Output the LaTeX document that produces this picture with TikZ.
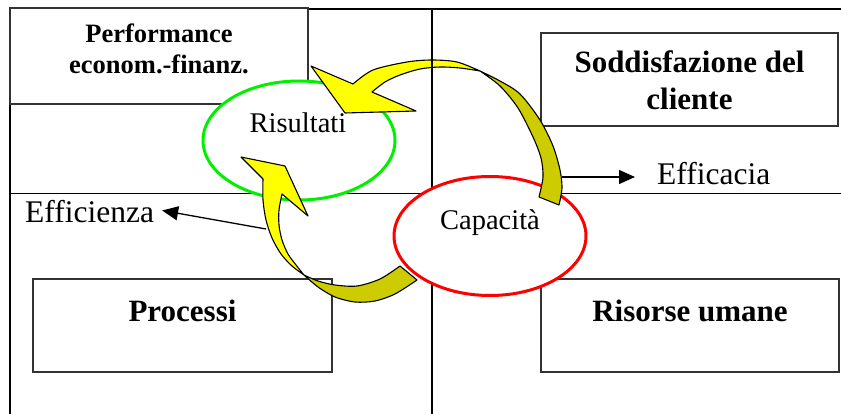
\documentclass[tikz,border=0pt]{standalone}
\usepackage{fontspec}
\setmainfont{Liberation Serif}
\usetikzlibrary{arrows.meta,shapes.geometric}

\definecolor{arrowyellow}{RGB}{255,255,0}
\definecolor{arrowolive}{RGB}{204,204,0}
\definecolor{ringgreen}{RGB}{0,240,0}
\definecolor{ringred}{RGB}{255,0,0}

\begin{document}
\begin{tikzpicture}[x=1pt,y=-1pt,
  frame/.style={draw=black,line width=1.7pt},
  panel/.style={draw=black!80,line width=1.2pt,inner sep=0pt},
  ring/.style={ellipse,draw=#1,line width=3pt,fill=white,inner sep=0pt,
    minimum width=192pt,minimum height=119pt},
  plainlbl/.style={inner sep=0pt,font=\fontsize{31.5}{37}\selectfont},
  ringlbl/.style={inner sep=0pt,font=\fontsize{28.5}{34}\selectfont},
  boldlbl/.style={inner sep=0pt,font=\bfseries\fontsize{31}{37}\selectfont},
  smallbold/.style={inner sep=0pt,font=\bfseries\fontsize{26.5}{31}\selectfont},
  conn/.style={line width=1.3pt,-{Triangle[length=16pt,width=14pt]}},
  front/.style={fill=arrowyellow,draw=black,line width=1.1pt,line join=round},
  back/.style={fill=arrowolive,draw=black,line width=1.1pt,line join=round}]
\useasboundingbox (0,0) rectangle (841,414);

% quadrant frame
\draw[frame] (308,9) -- (841,9);
\draw[frame] (10,104) -- (10,414);
\draw[frame] (432,9) -- (432,414);
\draw[frame] (10,193.5) -- (841,193.5);

% the four perspective boxes
\node[panel,minimum width=298pt,minimum height=96pt] (perf) at (159,56) {};
\node[panel,minimum width=297pt,minimum height=93pt] (sodd) at (689.5,79.5) {};
\node[panel,minimum width=299pt,minimum height=93pt] (proc) at (182.5,325.5) {};
\node[panel,minimum width=298pt,minimum height=93pt] (riso) at (690,325.5) {};

\node[smallbold,anchor=base] (perfA) at (159,43) {Performance};
\node[smallbold,anchor=base] (perfB) at (159,74) {econom.-finanz.};
\node[boldlbl,anchor=base] (soddA) at (689.5,73) {Soddisfazione del};
\node[boldlbl,anchor=base] (soddB) at (689.5,110) {cliente};
\node[boldlbl,anchor=base] (procA) at (182.5,321) {Processi};
\node[boldlbl,anchor=base] (risoA) at (690,321) {Risorse umane};

% results and capability rings
\node[ring=ringgreen] (risultati) at (299,140.5) {};
\node[ring=ringred] (capacita) at (490,236) {};
\node[ringlbl,anchor=base] (risultatiLbl) at (298,133) {Risultati};
\node[ringlbl,anchor=base] (capacitaLbl) at (490,230) {Capacità};

% efficiency / effectiveness labels
\node[plainlbl,anchor=base west] (efficienza) at (25,223) {Efficienza};
\node[plainlbl,anchor=base west] (efficacia) at (657,185) {Efficacia};
\coordinate (effStart) at (266,229);
\coordinate (ecaStart) at (562,177);
\draw[conn,shorten >=8pt] (effStart) -- ([yshift=3pt]efficienza.east);
\draw[conn,shorten >=22pt] (ecaStart) -- (ecaStart -| efficacia.west);

% curved arrow: capability -> results (upper loop)
\filldraw[back] (480,71)
  -- plot[smooth] coordinates {(480,71) (500,81) (520,94) (540,120) (553,146) (560,170) (562,188) (559,205)}
  -- (539,197)
  -- plot[smooth] coordinates {(539,197) (543,177) (541,158) (533,137) (518,108) (500,86) (480,71)}
  -- cycle;
\filldraw[front] (345,113) -- (416,111)
  -- plot[smooth] coordinates {(372,92) (385,82) (400,75) (420,69) (440,67) (460,68) (480,71)}
  -- plot[smooth] coordinates {(480,71) (457,62) (432,60) (407,62) (373,70) (353,84)}
  -- (311,66) -- cycle;

% curved arrow: capability -> results (lower loop)
\filldraw[back] (304,275)
  -- plot[smooth] coordinates {(304,275) (318,287) (335,297) (355,302) (375,301) (395,294) (417,280)}
  -- (400,266)
  -- plot[smooth] coordinates {(400,266) (380,279) (357,286) (335,285) (318,281) (304,275)}
  -- cycle;
\filldraw[front] (285,166) -- (308,216)
  -- plot[smooth] coordinates {(282,194) (279,210) (279,225) (282,240) (288,254) (296,265) (304,275)}
  -- plot[smooth] coordinates {(304,275) (292,266) (281,254) (272,238) (266,220) (263,200) (263,179)}
  -- (241,157) -- cycle;

% upper part of the central divider runs over the arrow
\draw[frame] (432,9) -- (432,186);
\end{tikzpicture}
\end{document}
